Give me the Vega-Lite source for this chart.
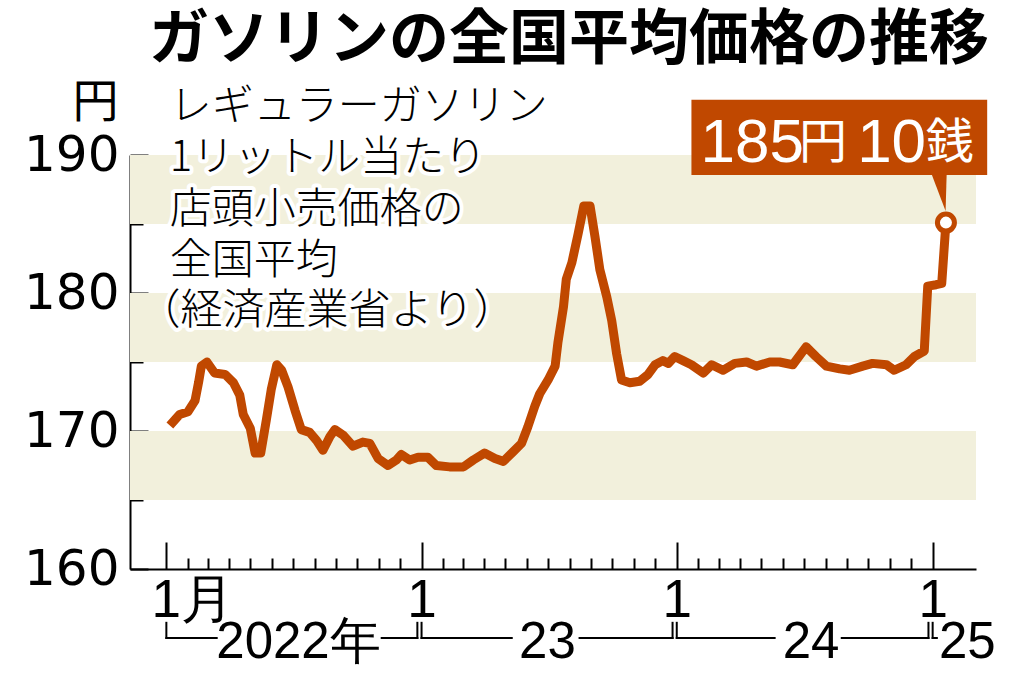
{
  "$schema": "https://vega.github.io/schema/vega-lite/v6.json",
  "width": 846,
  "height": 414,
  "autosize": {"type": "none"},
  "padding": {"left": 130, "top": 155, "right": 48, "bottom": 109},
  "background": "white",
  "config": {
    "view": {"stroke": null},
    "axis": {"grid": false, "domainColor": "black", "tickColor": "black", "labelColor": "black", "titleColor": "black"}
  },
  "title": {
    "text": "ガソリンの全国平均価格の推移",
    "font": "Noto Sans CJK JP",
    "fontWeight": "bold",
    "fontSize": 60,
    "color": "black",
    "anchor": "middle",
    "frame": "group",
    "dx": 16,
    "offset": -40,
    "baseline": "alphabetic"
  },
  "datasets": {
    "prices": [
      {"date": "2022-01-06", "price": 170.4},
      {"date": "2022-01-20", "price": 171.2},
      {"date": "2022-02-01", "price": 171.4},
      {"date": "2022-02-11", "price": 172.2},
      {"date": "2022-02-16", "price": 173.5},
      {"date": "2022-02-20", "price": 174.7},
      {"date": "2022-02-28", "price": 175.0},
      {"date": "2022-03-11", "price": 174.2},
      {"date": "2022-03-26", "price": 174.1},
      {"date": "2022-04-07", "price": 173.5},
      {"date": "2022-04-16", "price": 172.6},
      {"date": "2022-04-21", "price": 171.2},
      {"date": "2022-05-01", "price": 170.2},
      {"date": "2022-05-08", "price": 168.4},
      {"date": "2022-05-16", "price": 168.4},
      {"date": "2022-05-24", "price": 170.8},
      {"date": "2022-05-31", "price": 173.0},
      {"date": "2022-06-08", "price": 174.8},
      {"date": "2022-06-15", "price": 174.4},
      {"date": "2022-06-24", "price": 173.2},
      {"date": "2022-07-04", "price": 171.5},
      {"date": "2022-07-13", "price": 170.1},
      {"date": "2022-07-25", "price": 169.9},
      {"date": "2022-08-04", "price": 169.3},
      {"date": "2022-08-13", "price": 168.6},
      {"date": "2022-08-23", "price": 169.6},
      {"date": "2022-08-30", "price": 170.1},
      {"date": "2022-09-11", "price": 169.7},
      {"date": "2022-09-25", "price": 168.9},
      {"date": "2022-10-09", "price": 169.2},
      {"date": "2022-10-19", "price": 169.1},
      {"date": "2022-10-31", "price": 168.0},
      {"date": "2022-11-14", "price": 167.5},
      {"date": "2022-11-26", "price": 167.9},
      {"date": "2022-12-03", "price": 168.3},
      {"date": "2022-12-15", "price": 167.9},
      {"date": "2022-12-27", "price": 168.1},
      {"date": "2023-01-10", "price": 168.1},
      {"date": "2023-01-22", "price": 167.5},
      {"date": "2023-02-10", "price": 167.4},
      {"date": "2023-03-02", "price": 167.4},
      {"date": "2023-03-16", "price": 167.9},
      {"date": "2023-04-01", "price": 168.4},
      {"date": "2023-04-16", "price": 168.0},
      {"date": "2023-04-28", "price": 167.8},
      {"date": "2023-05-12", "price": 168.5},
      {"date": "2023-05-24", "price": 169.1},
      {"date": "2023-06-02", "price": 170.3},
      {"date": "2023-06-12", "price": 171.8},
      {"date": "2023-06-19", "price": 172.7},
      {"date": "2023-07-01", "price": 173.7},
      {"date": "2023-07-11", "price": 174.7},
      {"date": "2023-07-15", "price": 176.4},
      {"date": "2023-07-23", "price": 179.0},
      {"date": "2023-07-27", "price": 181.0},
      {"date": "2023-08-04", "price": 182.2},
      {"date": "2023-08-13", "price": 184.3},
      {"date": "2023-08-21", "price": 186.3},
      {"date": "2023-08-30", "price": 186.3},
      {"date": "2023-09-06", "price": 184.1},
      {"date": "2023-09-13", "price": 181.7},
      {"date": "2023-09-23", "price": 179.7},
      {"date": "2023-09-30", "price": 178.0},
      {"date": "2023-10-07", "price": 175.6},
      {"date": "2023-10-14", "price": 173.7},
      {"date": "2023-10-26", "price": 173.5},
      {"date": "2023-11-09", "price": 173.6},
      {"date": "2023-11-21", "price": 174.1},
      {"date": "2023-12-01", "price": 174.8},
      {"date": "2023-12-12", "price": 175.1},
      {"date": "2023-12-20", "price": 174.9},
      {"date": "2023-12-29", "price": 175.4},
      {"date": "2024-01-10", "price": 175.1},
      {"date": "2024-01-22", "price": 174.8},
      {"date": "2024-02-08", "price": 174.2},
      {"date": "2024-02-20", "price": 174.8},
      {"date": "2024-03-07", "price": 174.4},
      {"date": "2024-03-24", "price": 174.9},
      {"date": "2024-04-10", "price": 175.0},
      {"date": "2024-04-24", "price": 174.7},
      {"date": "2024-05-13", "price": 175.0},
      {"date": "2024-05-27", "price": 175.0},
      {"date": "2024-06-15", "price": 174.8},
      {"date": "2024-07-04", "price": 176.1},
      {"date": "2024-07-18", "price": 175.4},
      {"date": "2024-08-02", "price": 174.7},
      {"date": "2024-08-21", "price": 174.5},
      {"date": "2024-09-04", "price": 174.4},
      {"date": "2024-09-23", "price": 174.7},
      {"date": "2024-10-07", "price": 174.9},
      {"date": "2024-10-27", "price": 174.8},
      {"date": "2024-11-07", "price": 174.4},
      {"date": "2024-11-24", "price": 174.8},
      {"date": "2024-12-06", "price": 175.4},
      {"date": "2024-12-20", "price": 175.8},
      {"date": "2024-12-25", "price": 180.5},
      {"date": "2025-01-06", "price": 180.6},
      {"date": "2025-01-14", "price": 180.7},
      {"date": "2025-01-20", "price": 185.1}
    ],
    "latest": [{"date": "2025-01-20", "price": 185.1, "label": "185円10銭"}],
    "bands": [{"lo": 165, "hi": 170}, {"lo": 175, "hi": 180}, {"lo": 185, "hi": 190}],
    "yearSpans": [
      {"from": "2022-01-01", "to": "2022-03-14"},
      {"from": "2022-11-05", "to": "2022-12-26"},
      {"from": "2023-01-01", "to": "2023-05-10"},
      {"from": "2023-08-15", "to": "2023-12-26"},
      {"from": "2024-01-01", "to": "2024-05-20"},
      {"from": "2024-08-24", "to": "2024-12-26"},
      {"from": "2025-01-01", "to": "2025-01-07"}
    ],
    "yearEnds": [
      {"at": "2022-01-01"}, {"at": "2022-12-26"},
      {"at": "2023-01-01"}, {"at": "2023-12-26"},
      {"at": "2024-01-01"}, {"at": "2024-12-26"},
      {"at": "2025-01-01"}
    ],
    "yearLabels": [
      {"label": "2022年", "at": "2022-07-09"},
      {"label": "23", "at": "2023-06-30"},
      {"label": "24", "at": "2024-07-11"}
    ]
  },
  "resolve": {"axis": {"x": "independent", "y": "independent"}},
  "layer": [
    {
      "data": {"name": "bands"},
      "mark": {"type": "rect", "color": "#F2F0DC"},
      "encoding": {
        "y": {"field": "lo", "type": "quantitative", "axis": null},
        "y2": {"field": "hi"}
      }
    },
    {
      "data": {"name": "yearSpans"},
      "mark": {"type": "rule", "color": "black", "strokeWidth": 2, "strokeCap": "square"},
      "encoding": {
        "x": {"field": "from", "type": "temporal", "axis": null},
        "x2": {"field": "to"},
        "y": {"datum": 155.0, "type": "quantitative", "axis": null}
      }
    },
    {
      "data": {"name": "yearEnds"},
      "mark": {"type": "rule", "color": "black", "strokeWidth": 2, "strokeCap": "square"},
      "encoding": {
        "x": {"field": "at", "type": "temporal", "axis": null},
        "y": {"datum": 156.1, "type": "quantitative", "axis": null},
        "y2": {"datum": 155.0}
      }
    },
    {
      "data": {"name": "yearLabels"},
      "mark": {"type": "text", "font": "Liberation Sans", "fontSize": 51, "align": "center", "baseline": "middle", "color": "black"},
      "encoding": {
        "x": {"field": "at", "type": "temporal", "axis": null},
        "y": {"datum": 154.64, "type": "quantitative", "axis": null},
        "text": {"field": "label"}
      }
    },
    {
      "data": {"values": [{"label": "25"}]},
      "mark": {"type": "text", "font": "Liberation Sans", "fontSize": 51, "align": "left", "baseline": "middle", "color": "black"},
      "encoding": {
        "x": {"datum": {"year": 2025, "month": 1, "date": 10, "utc": true}, "type": "temporal", "axis": null},
        "y": {"datum": 154.64, "type": "quantitative", "axis": null},
        "text": {"field": "label"}
      }
    },
    {
      "data": {"values": [{"lines": ["レギュラーガソリン", "1リットル当たり", "店頭小売価格の", "全国平均"]}]},
      "mark": {"type": "text", "font": "Noto Sans CJK JP", "fontWeight": 300, "fontSize": 42, "lineHeight": 51.5, "align": "left", "baseline": "top", "color": "white", "stroke": "white", "strokeWidth": 8, "strokeJoin": "round"},
      "encoding": {
        "x": {"datum": {"year": 2022, "month": 1, "date": 6, "utc": true}, "type": "temporal", "axis": null},
        "y": {"datum": 194.93, "type": "quantitative", "axis": null},
        "text": {"field": "lines"}
      }
    },
    {
      "data": {"values": [{"lines": "（経済産業省より）"}]},
      "mark": {"type": "text", "font": "Noto Sans CJK JP", "fontWeight": 300, "fontSize": 42, "align": "left", "baseline": "top", "color": "white", "stroke": "white", "strokeWidth": 8, "strokeJoin": "round"},
      "encoding": {
        "x": {"datum": {"year": 2021, "month": 11, "date": 22, "utc": true}, "type": "temporal", "axis": null},
        "y": {"datum": 180.14, "type": "quantitative", "axis": null},
        "text": {"field": "lines"}
      }
    },
    {
      "data": {"values": [{"lines": ["レギュラーガソリン", "1リットル当たり", "店頭小売価格の", "全国平均"]}]},
      "mark": {"type": "text", "font": "Noto Sans CJK JP", "fontWeight": 300, "fontSize": 42, "lineHeight": 51.5, "align": "left", "baseline": "top", "color": "black"},
      "encoding": {
        "x": {"datum": {"year": 2022, "month": 1, "date": 6, "utc": true}, "type": "temporal", "axis": null},
        "y": {"datum": 194.93, "type": "quantitative", "axis": null},
        "text": {"field": "lines"}
      }
    },
    {
      "data": {"values": [{"lines": "（経済産業省より）"}]},
      "mark": {"type": "text", "font": "Noto Sans CJK JP", "fontWeight": 300, "fontSize": 42, "align": "left", "baseline": "top", "color": "black"},
      "encoding": {
        "x": {"datum": {"year": 2021, "month": 11, "date": 22, "utc": true}, "type": "temporal", "axis": null},
        "y": {"datum": 180.14, "type": "quantitative", "axis": null},
        "text": {"field": "lines"}
      }
    },
    {
      "data": {"name": "prices"},
      "mark": {"type": "line", "color": "#C04800", "strokeWidth": 9, "strokeJoin": "round", "strokeCap": "butt"},
      "encoding": {
        "x": {
          "field": "date",
          "type": "temporal",
          "scale": {"type": "utc", "domain": [{"year": 2021, "month": 11, "date": 10, "utc": true}, {"year": 2025, "month": 3, "date": 4, "utc": true}]},
          "axis": {
            "orient": "bottom",
            "title": null,
            "values": [
              {"year": 2022, "month": 1, "date": 1, "utc": true},
              {"year": 2023, "month": 1, "date": 1, "utc": true},
              {"year": 2024, "month": 1, "date": 1, "utc": true},
              {"year": 2025, "month": 1, "date": 1, "utc": true}
            ],
            "labelExpr": "utcyear(datum.value) == 2022 ? '1月' : '1'",
            "labelFont": "Liberation Sans",
            "labelFontSize": 53,
            "labelAlign": "center",
            "labelOffset": {"condition": {"test": "utcyear(datum.value) == 2022", "value": 26}, "value": 0},
            "labelPadding": 32,
            "labelFlush": false,
            "labelOverlap": false,
            "tickSize": -27,
            "tickWidth": 2,
            "domain": true,
            "domainWidth": 2
          }
        },
        "y": {
          "field": "price",
          "type": "quantitative",
          "scale": {"domain": [160, 190], "nice": false, "zero": false},
          "axis": {
            "orient": "left",
            "values": [160, 170, 180, 190],
            "title": "円",
            "titleAngle": 0,
            "titleX": -35,
            "titleY": -53,
            "titleAlign": "center",
            "titleBaseline": "middle",
            "titleFont": "Noto Sans CJK JP",
            "titleFontSize": 46,
            "titleFontWeight": "normal",
            "labelFont": "DejaVu Sans",
            "labelFontSize": 50,
            "labelPadding": 29,
            "labelFlush": false,
            "labelOverlap": false,
            "tickSize": -18,
            "tickWidth": 2,
            "domain": true,
            "domainWidth": 2
          }
        }
      }
    },
    {
      "data": {"name": "latest"},
      "mark": {"type": "point", "filled": true, "fill": "white", "stroke": "#C04800", "strokeWidth": 5, "size": 289, "opacity": 1},
      "encoding": {
        "x": {
          "field": "date",
          "type": "temporal",
          "axis": {
            "orient": "bottom",
            "title": null,
            "labels": false,
            "domain": false,
            "tickSize": -11,
            "tickWidth": 2,
            "values": [
              {"year": 2022, "month": 2, "date": 1, "utc": true},
              {"year": 2022, "month": 3, "date": 1, "utc": true},
              {"year": 2022, "month": 4, "date": 1, "utc": true},
              {"year": 2022, "month": 5, "date": 1, "utc": true},
              {"year": 2022, "month": 6, "date": 1, "utc": true},
              {"year": 2022, "month": 7, "date": 1, "utc": true},
              {"year": 2022, "month": 8, "date": 1, "utc": true},
              {"year": 2022, "month": 9, "date": 1, "utc": true},
              {"year": 2022, "month": 10, "date": 1, "utc": true},
              {"year": 2022, "month": 11, "date": 1, "utc": true},
              {"year": 2022, "month": 12, "date": 1, "utc": true},
              {"year": 2023, "month": 2, "date": 1, "utc": true},
              {"year": 2023, "month": 3, "date": 1, "utc": true},
              {"year": 2023, "month": 4, "date": 1, "utc": true},
              {"year": 2023, "month": 5, "date": 1, "utc": true},
              {"year": 2023, "month": 6, "date": 1, "utc": true},
              {"year": 2023, "month": 7, "date": 1, "utc": true},
              {"year": 2023, "month": 8, "date": 1, "utc": true},
              {"year": 2023, "month": 9, "date": 1, "utc": true},
              {"year": 2023, "month": 10, "date": 1, "utc": true},
              {"year": 2023, "month": 11, "date": 1, "utc": true},
              {"year": 2023, "month": 12, "date": 1, "utc": true},
              {"year": 2024, "month": 2, "date": 1, "utc": true},
              {"year": 2024, "month": 3, "date": 1, "utc": true},
              {"year": 2024, "month": 4, "date": 1, "utc": true},
              {"year": 2024, "month": 5, "date": 1, "utc": true},
              {"year": 2024, "month": 6, "date": 1, "utc": true},
              {"year": 2024, "month": 7, "date": 1, "utc": true},
              {"year": 2024, "month": 8, "date": 1, "utc": true},
              {"year": 2024, "month": 9, "date": 1, "utc": true},
              {"year": 2024, "month": 10, "date": 1, "utc": true},
              {"year": 2024, "month": 11, "date": 1, "utc": true},
              {"year": 2024, "month": 12, "date": 1, "utc": true}
            ]
          }
        },
        "y": {
          "field": "price",
          "type": "quantitative",
          "axis": {
            "orient": "left",
            "title": null,
            "labels": false,
            "domain": false,
            "tickSize": -13,
            "tickWidth": 2,
            "values": [165, 175, 185]
          }
        }
      }
    },
    {
      "data": {"values": [{}]},
      "mark": {"type": "rect", "color": "#C04800"},
      "encoding": {
        "x": {"datum": {"year": 2024, "month": 1, "date": 22, "utc": true}, "type": "temporal", "axis": null},
        "x2": {"datum": {"year": 2025, "month": 3, "date": 20, "utc": true}},
        "y": {"datum": 194.0, "type": "quantitative", "axis": null},
        "y2": {"datum": 188.55}
      }
    },
    {
      "data": {"values": [{}]},
      "mark": {"type": "point", "shape": "M -0.45 -1.05 L 0.39 -1.05 L 0.33 1 Z", "filled": true, "color": "#C04800", "size": 1296, "opacity": 1, "strokeWidth": 0},
      "encoding": {
        "x": {"datum": {"year": 2025, "month": 1, "date": 11, "utc": true}, "type": "temporal", "axis": null},
        "y": {"datum": 187.25, "type": "quantitative", "axis": null}
      }
    },
    {
      "data": {"values": [{"t": "185"}]},
      "mark": {"type": "text", "font": "Liberation Sans", "fontSize": 62, "align": "left", "baseline": "alphabetic", "color": "white"},
      "encoding": {
        "x": {"datum": {"year": 2024, "month": 2, "date": 4, "utc": true}, "type": "temporal", "axis": null},
        "y": {"datum": 189.49, "type": "quantitative", "axis": null},
        "text": {"field": "t"}
      }
    },
    {
      "data": {"values": [{"t": "円"}]},
      "mark": {"type": "text", "font": "Noto Sans CJK JP", "fontSize": 48, "align": "left", "baseline": "alphabetic", "color": "white"},
      "encoding": {
        "x": {"datum": {"year": 2024, "month": 6, "date": 24, "utc": true}, "type": "temporal", "axis": null},
        "y": {"datum": 189.75, "type": "quantitative", "axis": null},
        "text": {"field": "t"}
      }
    },
    {
      "data": {"values": [{"t": "10"}]},
      "mark": {"type": "text", "font": "Liberation Sans", "fontSize": 62, "align": "left", "baseline": "alphabetic", "color": "white"},
      "encoding": {
        "x": {"datum": {"year": 2024, "month": 9, "date": 15, "utc": true}, "type": "temporal", "axis": null},
        "y": {"datum": 189.49, "type": "quantitative", "axis": null},
        "text": {"field": "t"}
      }
    },
    {
      "data": {"values": [{"t": "銭"}]},
      "mark": {"type": "text", "font": "Noto Sans CJK JP", "fontSize": 48, "align": "left", "baseline": "alphabetic", "color": "white"},
      "encoding": {
        "x": {"datum": {"year": 2024, "month": 12, "date": 22, "utc": true}, "type": "temporal", "axis": null},
        "y": {"datum": 189.75, "type": "quantitative", "axis": null},
        "text": {"field": "t"}
      }
    }
  ]
}
